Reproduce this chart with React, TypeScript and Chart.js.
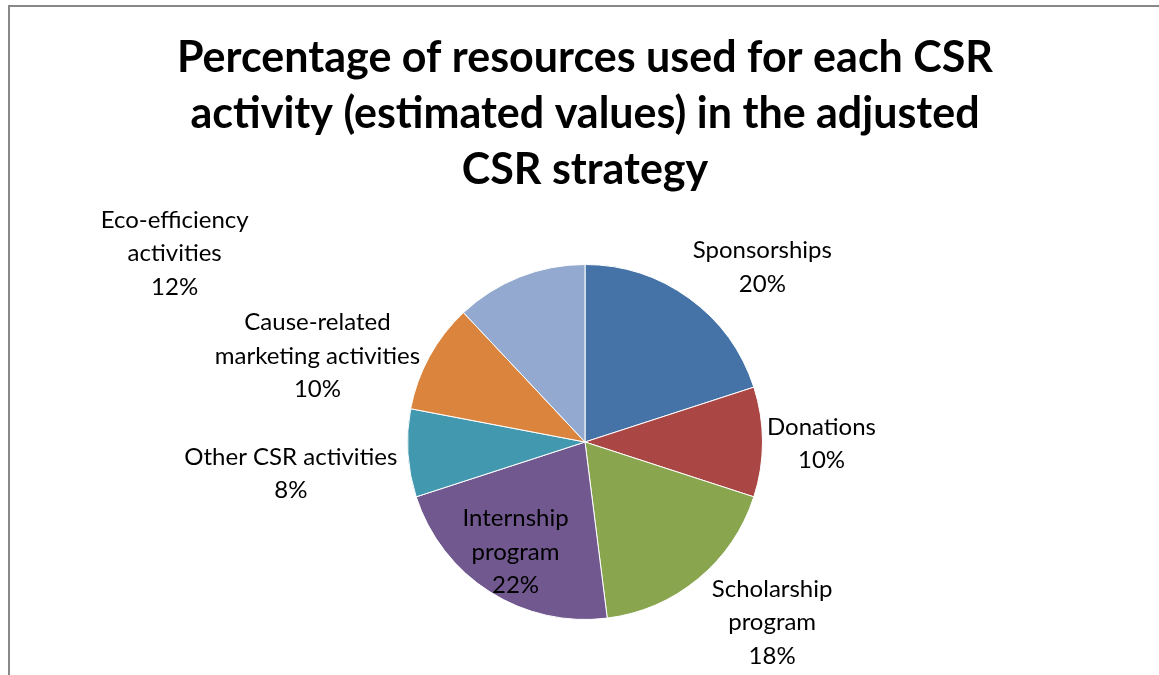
import React, { useEffect, useRef } from "react";
import { Chart, registerables } from "chart.js";

Chart.register(...registerables);

// ---- data ----
const categories = [
  "Sponsorships",
  "Donations",
  "Scholarship program",
  "Internship program",
  "Other CSR activities",
  "Cause-related marketing activities",
  "Eco-efficiency activities",
];
const values = [20, 10, 18, 22, 8, 10, 12];
const sliceColors = ["#4572A7", "#AA4643", "#89A54E", "#71588F", "#4198AF", "#DB843D", "#93A9CF"];
const titleLines = [
  "Percentage of resources used for each CSR",
  "activity (estimated values) in the adjusted",
  "CSR strategy",
];
const labelLines = [
  ["Sponsorships"],
  ["Donations"],
  ["Scholarship", "program"],
  ["Internship", "program"],
  ["Other CSR activities"],
  ["Cause-related", "marketing activities"],
  ["Eco-efficiency", "activities"],
];

// ---- label layout (offsets from each slice's outer-edge midpoint, or inside radius fraction) ----
const labelPlacement: Array<{ dx?: number; dy?: number; inside?: number }> = [
  { dx: 73, dy: -32 },
  { dx: 59, dy: 1 },
  { dx: 74, dy: 43 },
  { inside: 0.73 },
  { dx: -117, dy: 20 },
  { dx: -112, dy: -1 },
  { dx: -345, dy: -24 },
];

const FONT = "Lato, Calibri, 'Open Sans', sans-serif";

const framePlugin = {
  id: "frameAndTitle",
  beforeDraw(chart: any) {
    const ctx = chart.ctx;
    ctx.save();
    ctx.fillStyle = "#ffffff";
    ctx.fillRect(0, 0, chart.width, chart.height);
    ctx.strokeStyle = "#888888";
    ctx.lineWidth = 2;
    ctx.beginPath();
    ctx.moveTo(9, chart.height);
    ctx.lineTo(9, 6);
    ctx.lineTo(chart.width, 6);
    ctx.stroke();
    ctx.restore();
  },
  afterDraw(chart: any) {
    const ctx = chart.ctx;
    const ca = chart.chartArea;
    const cx = (ca.left + ca.right) / 2;
    ctx.save();
    ctx.fillStyle = "#000000";
    ctx.font = `bold 43px ${FONT}`;
    ctx.textAlign = "center";
    ctx.textBaseline = "alphabetic";
    titleLines.forEach((line, i) => {
      ctx.fillText(line, cx, 72 + i * 56);
    });
    ctx.restore();
  },
};

const labelPlugin = {
  id: "sliceLabels",
  afterDatasetsDraw(chart: any) {
    const ctx = chart.ctx;
    const meta = chart.getDatasetMeta(0);
    const total = values.reduce((a, b) => a + b, 0);
    ctx.save();
    ctx.fillStyle = "#000000";
    ctx.font = `24px ${FONT}`;
    ctx.textAlign = "center";
    ctx.textBaseline = "alphabetic";
    const lh = 33.5;
    meta.data.forEach((arc: any, i: number) => {
      const { x, y, startAngle, endAngle, outerRadius } = arc.getProps(
        ["x", "y", "startAngle", "endAngle", "outerRadius"],
        true
      );
      const mid = (startAngle + endAngle) / 2;
      const p = labelPlacement[i];
      let lx: number, ly: number;
      if (p.inside !== undefined) {
        lx = x + Math.cos(mid) * outerRadius * p.inside;
        ly = y + Math.sin(mid) * outerRadius * p.inside;
      } else {
        lx = x + Math.cos(mid) * outerRadius + (p.dx || 0);
        ly = y + Math.sin(mid) * outerRadius + (p.dy || 0);
      }
      const lines = [...labelLines[i], `${Math.round((values[i] / total) * 100)}%`];
      const n = lines.length;
      lines.forEach((t, k) => {
        const cy = ly + (k - (n - 1) / 2) * lh;
        ctx.fillText(t, lx, cy + 8.5);
      });
    });
    ctx.restore();
  },
};

export default function App() {
  const ref = useRef<HTMLCanvasElement | null>(null);
  useEffect(() => {
    if (!ref.current) return;
    const chart = new Chart(ref.current, {
      type: "pie",
      data: {
        labels: categories,
        datasets: [
          {
            data: values,
            backgroundColor: sliceColors,
            borderColor: "#ffffff",
            borderWidth: 1,
          },
        ],
      },
      options: {
        responsive: false,
        animation: false,
        rotation: 0,
        layout: { padding: { top: 264, bottom: 55, left: 11, right: 0 } },
        plugins: {
          legend: { display: false },
          tooltip: { enabled: false },
          title: { display: false },
        },
      },
      plugins: [framePlugin, labelPlugin],
    });
    let alive = true;
    if ((document as any).fonts && (document as any).fonts.ready) {
      (document as any).fonts.ready.then(() => {
        if (alive) chart.update();
      });
    }
    return () => {
      alive = false;
      chart.destroy();
    };
  }, []);
  return (
    <div style={{ position: "fixed", left: 0, top: 0, width: 1159, height: 675, background: "#fff" }}>
      <canvas ref={ref} width={1159} height={675} style={{ width: 1159, height: 675, display: "block" }} />
    </div>
  );
}
